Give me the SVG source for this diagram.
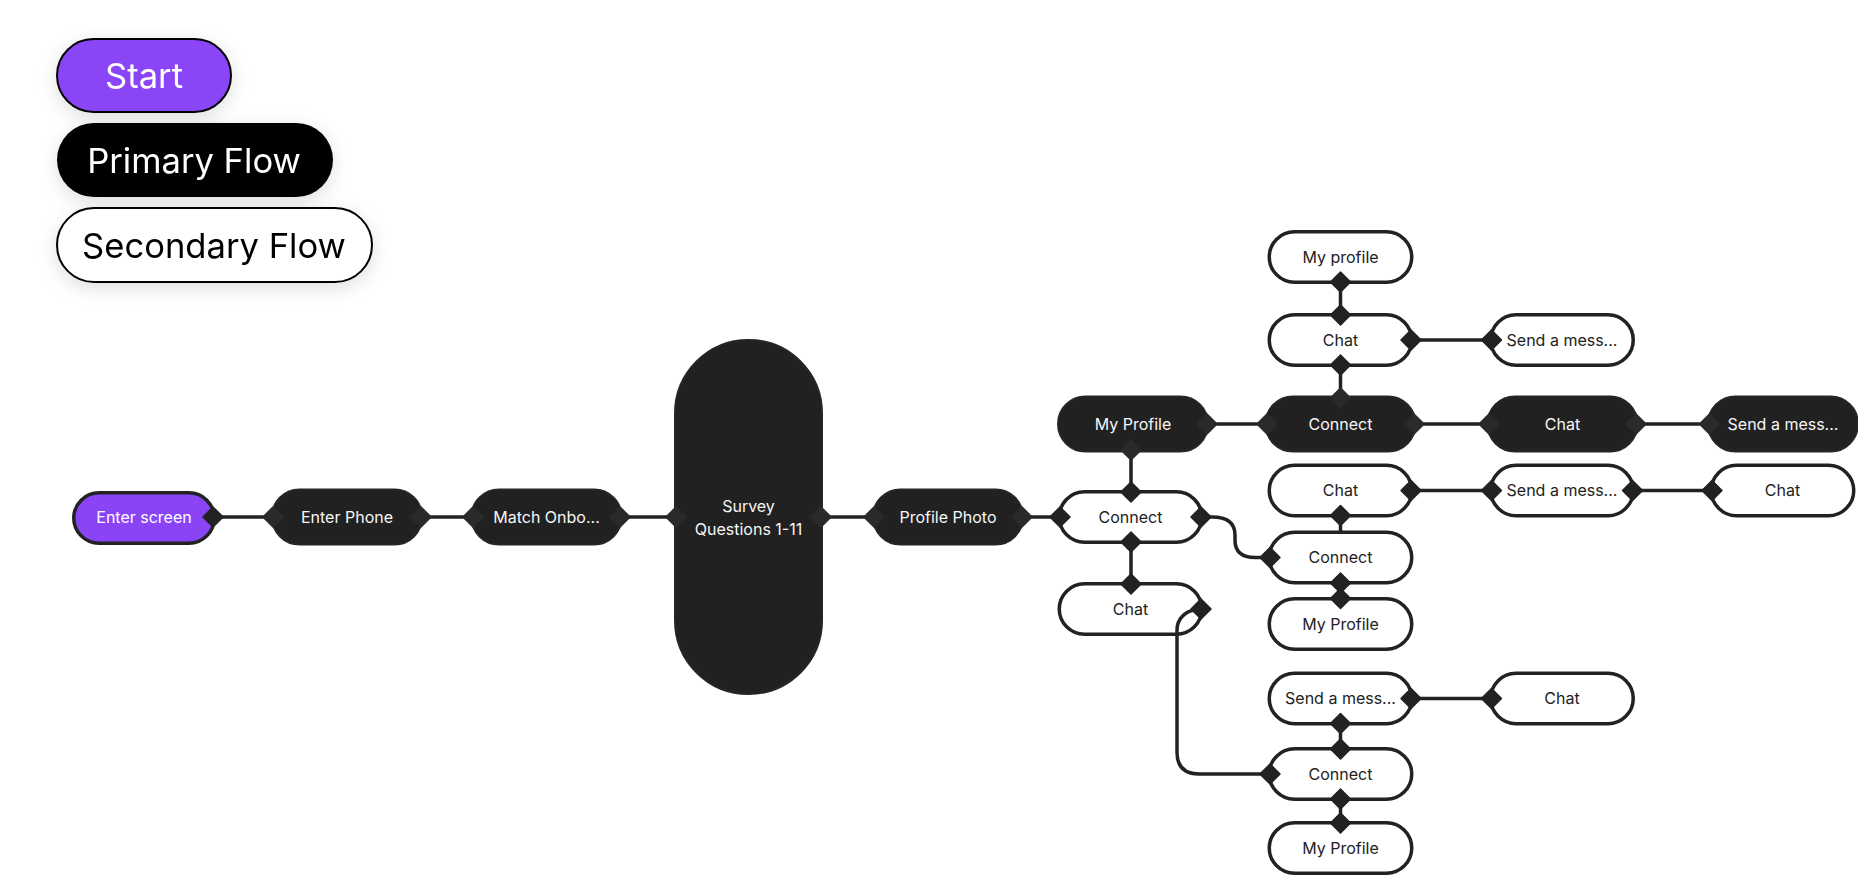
<svg xmlns="http://www.w3.org/2000/svg" xmlns:xlink="http://www.w3.org/1999/xlink" width="1858" height="876" viewBox="0 0 1858 876">
<defs>
<filter id="sh" x="-30%" y="-60%" width="160%" height="220%">
<feDropShadow dx="0" dy="5" stdDeviation="9" flood-color="#000" flood-opacity="0.13"/>
</filter>
<path id="dm" d="M0,-10 L10,0 L0,10 L-10,0Z"/>
</defs>
<style>
.lg{font-family:Inter,"Liberation Sans",sans-serif;font-size:34.6px;text-anchor:middle}
.t{font-family:Inter,"Liberation Sans",sans-serif;font-size:16px;text-anchor:middle}
.dk rect{fill:#212121;stroke:#262626;stroke-width:2}
.dk text{fill:#f7f7f7}
.wh rect{fill:#fff;stroke:#222;stroke-width:3.5}
.wh text{fill:#222}
.st rect{fill:#8a44f6;stroke:#222;stroke-width:3.5}
.st text{fill:#fff}
.ln{fill:none;stroke:#222;stroke-width:3.5}
.d1{fill:#222;stroke:#222;stroke-width:1.5;stroke-linejoin:round}
.d2{fill:#2a2a2a;stroke:#2a2a2a;stroke-width:1.5;stroke-linejoin:round}
</style>
<rect width="1858" height="876" fill="#fff"/>

<g id="legend">
<g id="legend-start" filter="url(#sh)">
<rect x="57" y="39" width="174" height="73" rx="36.5" fill="#8a44f6" stroke="#000" stroke-width="2"/>
<text class="lg" x="144" y="88" fill="#fff">Start</text>
</g>
<g id="legend-primary" filter="url(#sh)">
<rect x="57" y="123" width="276" height="74" rx="37" fill="#000"/>
<text class="lg" x="194" y="172.5" fill="#fff">Primary Flow</text>
</g>
<g id="legend-secondary" filter="url(#sh)">
<rect x="57" y="208" width="315" height="74" rx="37" fill="#fff" stroke="#000" stroke-width="2"/>
<text class="lg" x="214" y="257.5" fill="#000">Secondary Flow</text>
</g>
</g>

<g id="nodes">
<g id="n-enter" class="st"><rect x="73.75" y="492.75" width="140.5" height="50.5" rx="25.25"/><text class="t" x="144" y="523.3">Enter screen</text></g>
<g id="n-phone" class="dk"><rect x="272" y="489.5" width="150" height="55" rx="27.5"/><text class="t" x="347" y="522.8">Enter Phone</text></g>
<g id="n-match" class="dk"><rect x="471.5" y="489.5" width="150" height="55" rx="27.5"/><text class="t" x="546.5" y="522.8">Match Onbo...</text></g>
<g id="n-survey" class="dk"><rect x="675" y="340" width="147" height="354" rx="73.5"/><text class="t" x="748.5" y="512">Survey</text><text class="t" x="748.5" y="535">Questions 1-11</text></g>
<g id="n-photo" class="dk"><rect x="873" y="489.5" width="150" height="55" rx="27.5"/><text class="t" x="948" y="522.8">Profile Photo</text></g>
<g id="n-myprofile-a" class="dk"><rect x="1058" y="396.5" width="150" height="55" rx="27.5"/><text class="t" x="1133" y="429.8">My Profile</text></g>
<g id="n-connect-a" class="wh"><rect x="1059.25" y="491.75" width="142.5" height="50.5" rx="25.25"/><text class="t" x="1130.5" y="522.8">Connect</text></g>
<g id="n-chat-a" class="wh"><rect x="1059.25" y="583.75" width="142.5" height="50.5" rx="25.25"/><text class="t" x="1130.5" y="614.8">Chat</text></g>
<g id="n-myprofile-top" class="wh"><rect x="1269.25" y="231.75" width="142.5" height="50.5" rx="25.25"/><text class="t" x="1340.5" y="262.8">My profile</text></g>
<g id="n-chat-b" class="wh"><rect x="1269.25" y="314.75" width="142.5" height="50.5" rx="25.25"/><text class="t" x="1340.5" y="345.8">Chat</text></g>
<g id="n-send-b" class="wh"><rect x="1490.75" y="314.75" width="142.5" height="50.5" rx="25.25"/><text class="t" x="1562" y="345.8">Send a mess...</text></g>
<g id="n-connect-b" class="dk"><rect x="1265.5" y="396.5" width="150" height="55" rx="27.5"/><text class="t" x="1340.5" y="429.8">Connect</text></g>
<g id="n-chat-c" class="dk"><rect x="1487.5" y="396.5" width="150" height="55" rx="27.5"/><text class="t" x="1562.5" y="429.8">Chat</text></g>
<g id="n-send-c" class="dk"><rect x="1708" y="396.5" width="150" height="55" rx="27.5"/><text class="t" x="1783" y="429.8">Send a mess...</text></g>
<g id="n-chat-d" class="wh"><rect x="1269.25" y="465.25" width="142.5" height="50.5" rx="25.25"/><text class="t" x="1340.5" y="496.3">Chat</text></g>
<g id="n-send-d" class="wh"><rect x="1490.75" y="465.25" width="142.5" height="50.5" rx="25.25"/><text class="t" x="1562" y="496.3">Send a mess...</text></g>
<g id="n-chat-e" class="wh"><rect x="1711.25" y="465.25" width="142.5" height="50.5" rx="25.25"/><text class="t" x="1782.5" y="496.3">Chat</text></g>
<g id="n-connect-d" class="wh"><rect x="1269.25" y="532.25" width="142.5" height="50.5" rx="25.25"/><text class="t" x="1340.5" y="563.3">Connect</text></g>
<g id="n-myprofile-d" class="wh"><rect x="1269.25" y="598.75" width="142.5" height="50.5" rx="25.25"/><text class="t" x="1340.5" y="629.8">My Profile</text></g>
<g id="n-send-f" class="wh"><rect x="1269.25" y="673.25" width="142.5" height="50.5" rx="25.25"/><text class="t" x="1340.5" y="704.3">Send a mess...</text></g>
<g id="n-chat-f" class="wh"><rect x="1490.75" y="673.25" width="142.5" height="50.5" rx="25.25"/><text class="t" x="1562" y="704.3">Chat</text></g>
<g id="n-connect-f" class="wh"><rect x="1269.25" y="748.75" width="142.5" height="50.5" rx="25.25"/><text class="t" x="1340.5" y="779.8">Connect</text></g>
<g id="n-myprofile-f" class="wh"><rect x="1269.25" y="822.75" width="142.5" height="50.5" rx="25.25"/><text class="t" x="1340.5" y="853.8">My Profile</text></g>
</g>

<g id="connectors">
<path class="ln" d="M214,517 H272"/>
<path class="ln" d="M422,517 H472"/>
<path class="ln" d="M621,517 H675"/>
<path class="ln" d="M822,517 H873"/>
<path class="ln" d="M1023,517 H1059"/>
<path class="ln" d="M1131,451.5 V491.75"/>
<path class="ln" d="M1131,542.25 V583.75"/>
<path class="ln" d="M1201.75,517 H1212 Q1235,517 1235,535 V540 Q1235,557.5 1255,557.5 H1269.25"/>
<path class="ln" d="M1208,424 H1265.5"/>
<path class="ln" d="M1415.5,424 H1487.5"/>
<path class="ln" d="M1637.5,424 H1708"/>
<path class="ln" d="M1340.5,282.25 V314.75"/>
<path class="ln" d="M1340.5,365.25 V396.5"/>
<path class="ln" d="M1411.75,340 H1490.75"/>
<path class="ln" d="M1340.5,515.75 V532.25"/>
<path class="ln" d="M1411.75,490.5 H1490.75"/>
<path class="ln" d="M1633.25,490.5 H1711.25"/>
<path class="ln" d="M1340.5,582.75 V598.75"/>
<path class="ln" d="M1201.75,610 H1197 A20,20 0 0 0 1177,630 V752 Q1177,774 1199,774 H1269.25"/>
<path class="ln" d="M1340.5,723.75 V748.75"/>
<path class="ln" d="M1411.75,698.5 H1490.75"/>
<path class="ln" d="M1340.5,799.25 V822.75"/>

<g id="ports">
<use href="#dm" class="d1" x="213" y="517"/>
<use href="#dm" class="d2" x="273" y="517"/>
<use href="#dm" class="d2" x="421" y="517"/>
<use href="#dm" class="d2" x="473" y="517"/>
<use href="#dm" class="d2" x="620" y="517"/>
<use href="#dm" class="d2" x="676" y="517"/>
<use href="#dm" class="d2" x="821" y="517"/>
<use href="#dm" class="d2" x="874" y="517"/>
<use href="#dm" class="d2" x="1022" y="517"/>
<use href="#dm" class="d1" x="1060" y="517"/>
<use href="#dm" class="d2" x="1131" y="450"/>
<use href="#dm" class="d2" x="1207" y="424"/>
<use href="#dm" class="d1" x="1131" y="492"/>
<use href="#dm" class="d1" x="1131" y="542"/>
<use href="#dm" class="d1" x="1201" y="517"/>
<use href="#dm" class="d1" x="1131" y="584"/>
<use href="#dm" class="d1" x="1201" y="609"/>
<use href="#dm" class="d1" x="1340.5" y="282"/>
<use href="#dm" class="d1" x="1340.5" y="315"/>
<use href="#dm" class="d1" x="1340.5" y="365"/>
<use href="#dm" class="d1" x="1411" y="340"/>
<use href="#dm" class="d1" x="1491.5" y="340"/>
<use href="#dm" class="d2" x="1340.5" y="398"/>
<use href="#dm" class="d2" x="1267" y="424"/>
<use href="#dm" class="d2" x="1414" y="424"/>
<use href="#dm" class="d2" x="1489" y="424"/>
<use href="#dm" class="d2" x="1636" y="424"/>
<use href="#dm" class="d2" x="1709.5" y="424"/>
<use href="#dm" class="d1" x="1340.5" y="515.5"/>
<use href="#dm" class="d1" x="1411" y="490.5"/>
<use href="#dm" class="d1" x="1491.5" y="490.5"/>
<use href="#dm" class="d1" x="1632.5" y="490.5"/>
<use href="#dm" class="d1" x="1712" y="490.5"/>
<use href="#dm" class="d1" x="1270" y="557.5"/>
<use href="#dm" class="d1" x="1340.5" y="583"/>
<use href="#dm" class="d1" x="1340.5" y="598.5"/>
<use href="#dm" class="d1" x="1411" y="698.5"/>
<use href="#dm" class="d1" x="1491.5" y="698.5"/>
<use href="#dm" class="d1" x="1340.5" y="723.5"/>
<use href="#dm" class="d1" x="1340.5" y="749"/>
<use href="#dm" class="d1" x="1270" y="774"/>
<use href="#dm" class="d1" x="1340.5" y="799"/>
<use href="#dm" class="d1" x="1340.5" y="823"/>
</g>
</g>
</svg>
